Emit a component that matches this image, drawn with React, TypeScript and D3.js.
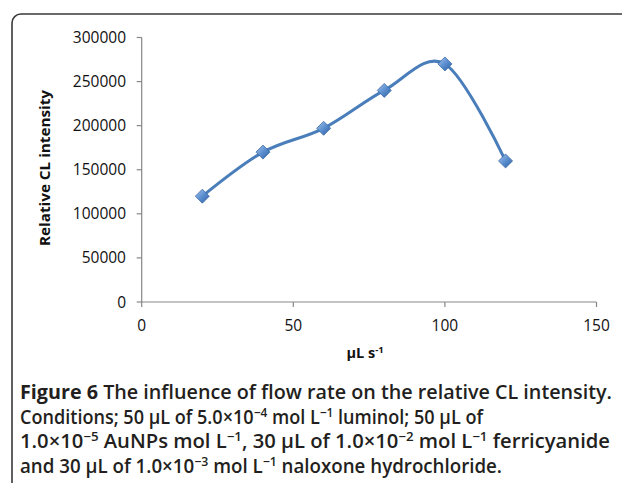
import React from "react";
import * as d3 from "d3";

const flowRates = [20, 40, 60, 80, 100, 120];
const intensities = [120000, 170000, 197000, 240000, 270000, 160000];
const yTicks = [0, 50000, 100000, 150000, 200000, 250000, 300000];
const xTicks = [0, 50, 100, 150];

const W = 622;
const H = 483;

export default function App() {
  const x = d3.scaleLinear().domain([0, 150]).range([141.7, 596.5]);
  const y = d3.scaleLinear().domain([0, 300000]).range([302, 37.5]);
  const pts: [number, number][] = flowRates.map((f, i) => [x(f), y(intensities[i])]);
  const line = d3.line().curve(d3.curveCardinal.tension(0))(pts) || "";
  const axisColor = "#878787";
  const tickFont = "'Open Sans', sans-serif";
  const diamond = (cx: number, cy: number, r: number) =>
    `M${cx},${cy - r}L${cx + r},${cy}L${cx},${cy + r}L${cx - r},${cy}Z`;

  return (
    <div style={{ position: "absolute", left: 0, top: 0, margin: 0 }}>
      <svg width={W} height={H} style={{ display: "block", background: "#fff" }}>
        <defs>
          <linearGradient id="mk" x1="0" y1="0" x2="1" y2="1">
            <stop offset="0" stopColor="#a9c4ea" />
            <stop offset="0.5" stopColor="#5b8fd0" />
            <stop offset="1" stopColor="#2f5f9e" />
          </linearGradient>
        </defs>
        <rect x={12} y={14} width={700} height={600} rx={9} ry={9} fill="none" stroke="#3a3a3a" strokeWidth={1.6} />

        {/* y axis */}
        <line x1={x(0)} x2={x(0)} y1={y(300000)} y2={y(0)} stroke={axisColor} strokeWidth={1.2} />
        {yTicks.map((t) => (
          <g key={"y" + t}>
            <line x1={x(0) - 5} x2={x(0)} y1={y(t)} y2={y(t)} stroke={axisColor} strokeWidth={1.2} />
            <text x={126} y={y(t)} dy="0.36em" textAnchor="end" fontFamily={tickFont} fontSize={15.5} fill="#111">
              {t}
            </text>
          </g>
        ))}

        {/* x axis */}
        <line x1={x(0)} x2={x(150)} y1={y(0)} y2={y(0)} stroke={axisColor} strokeWidth={1.2} />
        {xTicks.map((t) => (
          <g key={"x" + t}>
            <line x1={x(t)} x2={x(t)} y1={y(0)} y2={y(0) + 5} stroke={axisColor} strokeWidth={1.2} />
            <text x={x(t)} y={331} textAnchor="middle" fontFamily={tickFont} fontSize={15.5} fill="#111">
              {t}
            </text>
          </g>
        ))}

        {/* axis titles */}
        <text
          transform={`translate(50,168) rotate(-90)`}
          textAnchor="middle"
          fontFamily={tickFont}
          fontWeight={700}
          fontSize={15}
          fill="#111"
          textLength={156}
          lengthAdjust="spacingAndGlyphs"
        >
          Relative CL intensity
        </text>
        <text x={365} y={358} textAnchor="middle" fontFamily={tickFont} fontWeight={700} fontSize={14.5} fill="#111">
          µL s<tspan dy={-5} fontSize={9.5}>-1</tspan>
        </text>

        {/* series */}
        <path d={line} fill="none" stroke="#4a7ebb" strokeWidth={3} strokeLinecap="round" />
        {pts.map(([px, py], i) => (
          <path key={i} d={diamond(px, py, 7)} fill="url(#mk)" stroke="#3a6aa8" strokeWidth={0.8} />
        ))}

        {/* caption */}
        <g fontFamily="'Open Sans', sans-serif" fontSize={19} fill="#231f20" fontWeight={600}>
          <text x={20} y={399} textLength={592} lengthAdjust="spacingAndGlyphs">
            <tspan fontWeight={700}>Figure 6</tspan> The influence of flow rate on the relative CL intensity.
          </text>
          <text x={20} y={423.5} textLength={463} lengthAdjust="spacingAndGlyphs">
            Conditions; 50 µL of 5.0×10<tspan dy={-7} fontSize={12.5}>−4</tspan>
            <tspan dy={7}> mol L</tspan><tspan dy={-7} fontSize={12.5}>−1</tspan>
            <tspan dy={7}> luminol; 50 µL of</tspan>
          </text>
          <text x={20} y={448} textLength={590} lengthAdjust="spacingAndGlyphs">
            1.0×10<tspan dy={-7} fontSize={12.5}>−5</tspan>
            <tspan dy={7}> AuNPs mol L</tspan><tspan dy={-7} fontSize={12.5}>−1</tspan>
            <tspan dy={7}>, 30 µL of 1.0×10</tspan><tspan dy={-7} fontSize={12.5}>−2</tspan>
            <tspan dy={7}> mol L</tspan><tspan dy={-7} fontSize={12.5}>−1</tspan>
            <tspan dy={7}> ferricyanide</tspan>
          </text>
          <text x={20} y={472.5} textLength={482} lengthAdjust="spacingAndGlyphs">
            and 30 µL of 1.0×10<tspan dy={-7} fontSize={12.5}>−3</tspan>
            <tspan dy={7}> mol L</tspan><tspan dy={-7} fontSize={12.5}>−1</tspan>
            <tspan dy={7}> naloxone hydrochloride.</tspan>
          </text>
        </g>
      </svg>
    </div>
  );
}
